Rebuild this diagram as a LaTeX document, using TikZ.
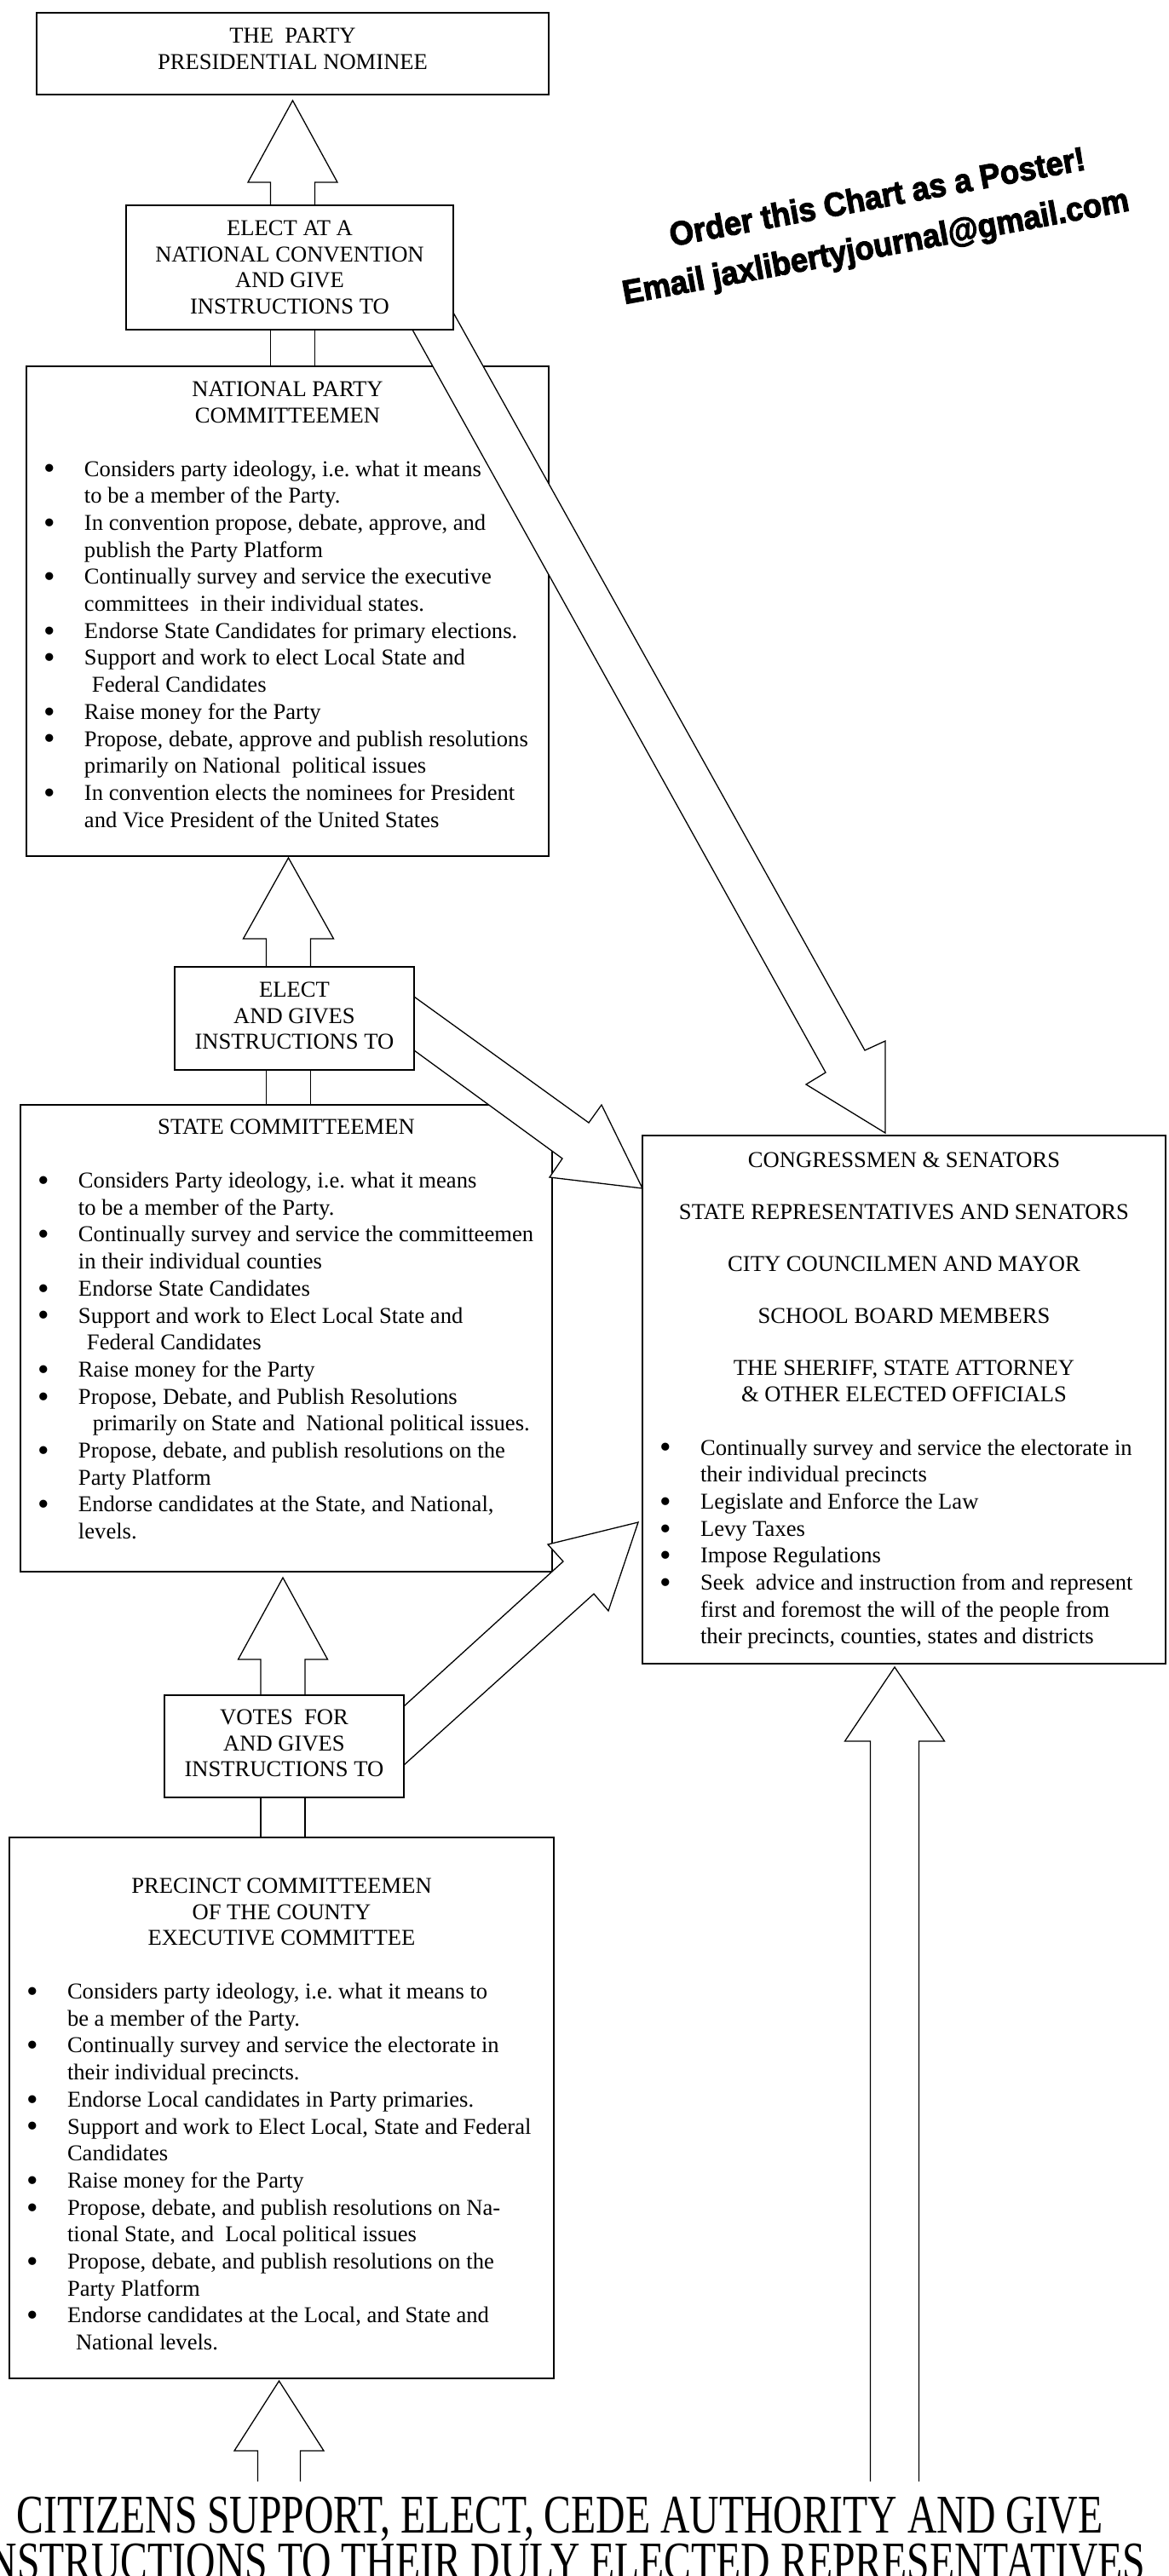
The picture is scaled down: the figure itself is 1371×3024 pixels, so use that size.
\documentclass[tikz,border=0pt]{standalone}
\usepackage{fontspec}
\setmainfont{Liberation Serif}
\newfontfamily\adfont[FakeBold=3]{Liberation Sans Bold}
\usepackage{graphicx}
\usetikzlibrary{calc}
\pgfdeclarelayer{bg}
\pgfdeclarelayer{fg}
\pgfsetlayers{bg,main,fg}
\newlength\px \setlength\px{0.5pt}
\newlength\bpos \newlength\bind
\newcommand\bigbul{\raisebox{-0.32ex}{\scalebox{1.45}{\textbullet}}}
% bullet line and continuation line
\newcommand\bl[1]{\par\noindent\makebox[\bind][l]{\hspace*{\bpos}\bigbul}\strut#1}
\newcommand\cl[1]{\par\noindent\hspace*{\bind}\strut#1}
\newcommand\bxc[4]{\begin{minipage}[t][#2\px][t]{#1\px}\frenchspacing\lineskiplimit=-5pt\vspace*{#3\px}#4\par\end{minipage}}
\newcommand\blist{\par\vspace{31\px}\fontsize{13.3pt}{15.85pt}\selectfont\raggedright\lineskiplimit=-5pt\setlength\bpos{20\px}\setlength\bind{68\px}}
\newcommand\ttl[1]{\centering\strut#1\strut\par}
\newcommand\vblk[5]{\coordinate (vb) at (#1 |- #2);%
 \draw[blk] ($(vb)+(-#5,0)$) -- ($(#1)+(-#5,#3)$) -- ($(#1)+(-#4,#3)$) -- (#1) -- ($(#1)+(#4,#3)$) -- ($(#1)+(#5,#3)$) -- ($(vb)+(#5,0)$);}
\newcommand\shaft[4]{%
 \draw[ln] ($(#1 |- #2)+(-#4,0)$) -- ($(#1 |- #3)+(-#4,0)$);
 \draw[ln] ($(#1 |- #2)+(#4,0)$) -- ($(#1 |- #3)+(#4,0)$);}
\begin{document}
\begin{tikzpicture}[x=0.5pt,y=-0.5pt,
  bx/.style={draw=black, fill=white, line width=0.9pt, inner sep=0pt, outer sep=0pt, anchor=north west, font=\fontsize{13.3pt}{15.25pt}\selectfont},
  blk/.style={draw=black, fill=white, line width=0.65pt, line join=miter},
  ln/.style={draw=black, line width=0.65pt}]
\useasboundingbox (0,0) rectangle (1371,3024);

\begin{pgfonlayer}{bg}
\fill[white] (0,0) rectangle (1371,3024);
\node[bx] (top) at (43,15) {\bxc{601}{96}{14.5}{\ttl{THE~~PARTY\\PRESIDENTIAL NOMINEE}}};
\node[bx] (npc) at (31,430) {\bxc{613}{575}{14.5}{\ttl{NATIONAL PARTY\\COMMITTEEMEN}\blist
 \bl{Considers party ideology, i.e. what it means}
 \cl{to be a member of the Party.}
 \bl{In convention propose, debate, approve, and}
 \cl{publish the Party Platform}
 \bl{Continually survey and service the executive}
 \cl{committees~ in their individual states.}
 \bl{Endorse State Candidates for primary elections.}
 \bl{Support and work to elect Local State and}
 \cl{\hspace*{9\px}Federal Candidates}
 \bl{Raise money for the Party}
 \bl{Propose, debate, approve and publish resolutions}
 \cl{primarily on National~ political issues}
 \bl{In convention elects the nominees for President}
 \cl{and Vice President of the United States}}};
\node[bx] (state) at (24,1297) {\bxc{624}{548}{13.5}{\ttl{STATE COMMITTEEMEN}\blist
 \bl{Considers Party ideology, i.e. what it means}
 \cl{to be a member of the Party.}
 \bl{Continually survey and service the committeemen}
 \cl{in their individual counties}
 \bl{Endorse State Candidates}
 \bl{Support and work to Elect Local State and}
 \cl{\hspace*{10\px}Federal Candidates}
 \bl{Raise money for the Party}
 \bl{Propose, Debate, and Publish Resolutions}
 \cl{\hspace*{17\px}primarily on State and~ National political issues.}
 \bl{Propose, debate, and publish resolutions on the}
 \cl{Party Platform}
 \bl{Endorse candidates at the State, and National,}
 \cl{levels.}}};
\node[bx] (cong) at (754,1333) {\bxc{614}{620}{16.5}{\ttl{CONGRESSMEN \& SENATORS\\[\baselineskip]STATE REPRESENTATIVES AND SENATORS\\[\baselineskip]CITY COUNCILMEN AND MAYOR\\[\baselineskip]SCHOOL BOARD MEMBERS\\[\baselineskip]THE SHERIFF, STATE ATTORNEY\\\& OTHER ELECTED OFFICIALS}\blist
 \bl{Continually survey and service the electorate in}
 \cl{their individual precincts}
 \bl{Legislate and Enforce the Law}
 \bl{Levy Taxes}
 \bl{Impose Regulations}
 \bl{Seek~ advice and instruction from and represent}
 \cl{first and foremost the will of the people from}
 \cl{their precincts, counties, states and districts}}};
\node[bx] (prec) at (11,2157) {\bxc{639}{635}{44.5}{\ttl{PRECINCT COMMITTEEMEN\\OF THE COUNTY\\EXECUTIVE COMMITTEE}\blist
 \bl{Considers party ideology, i.e. what it means to}
 \cl{be a member of the Party.}
 \bl{Continually survey and service the electorate in}
 \cl{their individual precincts.}
 \bl{Endorse Local candidates in Party primaries.}
 \bl{Support and work to Elect Local, State and Federal}
 \cl{Candidates}
 \bl{Raise money for the Party}
 \bl{Propose, debate, and publish resolutions on Na-}
 \cl{tional State, and~ Local political issues}
 \bl{Propose, debate, and publish resolutions on the}
 \cl{Party Platform}
 \bl{Endorse candidates at the Local, and State and}
 \cl{\hspace*{10\px}National levels.}}};
\end{pgfonlayer}

\begin{pgfonlayer}{fg}
\node[bx] (el1) at (148,241) {\bxc{384}{146}{14.5}{\ttl{ELECT AT A\\NATIONAL CONVENTION\\AND GIVE\\INSTRUCTIONS TO}}};
\node[bx] (el2) at (205,1135) {\bxc{281}{121}{14.5}{\ttl{ELECT\\AND GIVES\\INSTRUCTIONS TO}}};
\node[bx] (votes) at (193,1990) {\bxc{281}{120}{13.5}{\ttl{VOTES~~FOR\\AND GIVES\\INSTRUCTIONS TO}}};
\end{pgfonlayer}

% bottom caption
\node[anchor=north, inner sep=0pt, align=center, font=\fontsize{32pt}{26pt}\selectfont] (cit) at (657,2931)
 {\scalebox{0.745}[1]{CITIZENS SUPPORT, ELECT, CEDE AUTHORITY AND GIVE}\\\scalebox{0.745}[1]{INSTRUCTIONS TO THEIR DULY ELECTED REPRESENTATIVES}};

% advert
\node[rotate=10.5, anchor=base, inner sep=0pt] (ad1) at (1032,244) {\adfont\fontsize{17pt}{20pt}\selectfont\scalebox{1.07}[1.15]{Order this Chart as a Poster!}};
\node[rotate=10.5, anchor=base, inner sep=0pt] (ad2) at (1030,302) {\adfont\fontsize{17pt}{20pt}\selectfont\scalebox{1.07}[1.15]{Email jaxlibertyjournal@gmail.com}};

% vertical block arrows
\coordinate (a1t) at ($(top.south)+(0,7)$);
\vblk{a1t}{el1.north}{96}{52.5}{26}
\shaft{a1t}{el1.south}{npc.north}{26}
\coordinate (a2t) at ($(npc.south)+(1,2)$);
\vblk{a2t}{el2.north}{95}{53}{26}
\shaft{a2t}{el2.south}{state.north}{26}
\coordinate (a3t) at ($(state.south)+(-4,7)$);
\vblk{a3t}{votes.north}{96}{52.5}{26}
\shaft{a3t}{votes.south}{prec.north}{26}
\coordinate (a4t) at ($(prec.south)+(-3,3)$);
\coordinate (citL) at ($(cit.north -| a4t)+(0,-18)$);
\vblk{a4t}{citL}{82}{52.5}{25}
\coordinate (a8t) at ($(cong.south)+(-11,4)$);
\coordinate (citR) at ($(cit.north -| a8t)+(0,-18)$);
\vblk{a8t}{citR}{87}{58.5}{28.5}

% diagonal block arrows
\coordinate (a5s1) at ($(el1.south east)+(-48,0)$);
\coordinate (a5s2) at ($(el1.south east)+(0,-20)$);
\coordinate (a5t) at ($(cong.north west)+(285,-3)$);
\draw[blk] (a5s1) -- ($(a5t)+(-70,-71)$) -- ($(a5t)+(-93,-57)$) -- (a5t) -- ($(a5t)+(0,-108)$) -- ($(a5t)+(-24,-97)$) -- (a5s2);

\coordinate (a6s1) at ($(el2.north east)+(0,35)$);
\coordinate (a6s2) at ($(el2.north east)+(0,98)$);
\coordinate (a6t) at ($(cong.north west)+(0,62)$);
\draw[blk] (a6s1) -- ($(a6t)+(-63,-77)$) -- ($(a6t)+(-48,-98)$) -- (a6t) -- ($(a6t)+(-109,-13)$) -- ($(a6t)+(-94,-35)$) -- (a6s2);

\coordinate (a7s1) at ($(votes.north east)+(0,13)$);
\coordinate (a7s2) at ($(votes.north east)+(0,82)$);
\coordinate (a7t) at ($(cong.north west)+(-5,454)$);
\draw[blk] (a7s1) -- ($(a7t)+(-88,46)$) -- ($(a7t)+(-106,26)$) -- (a7t) -- ($(a7t)+(-35,104)$) -- ($(a7t)+(-52,84)$) -- (a7s2);
\end{tikzpicture}
\end{document}
